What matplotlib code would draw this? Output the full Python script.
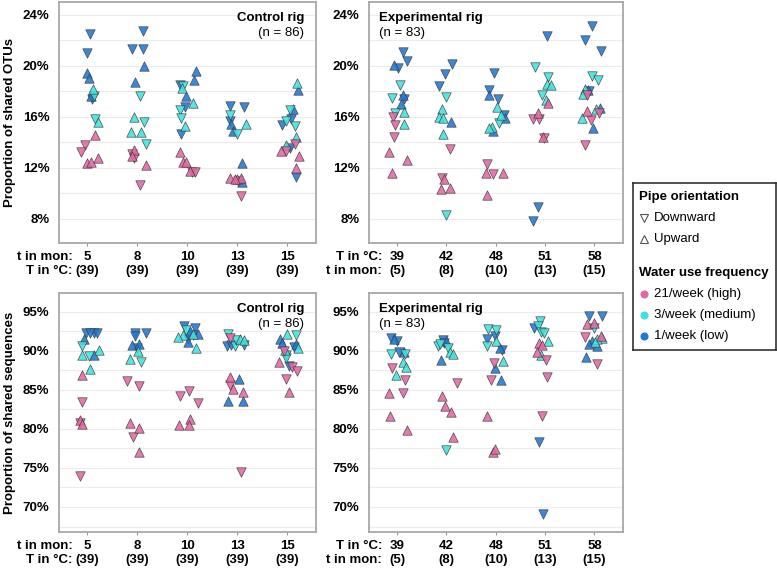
import numpy as np
import matplotlib.pyplot as plt
from matplotlib.ticker import MultipleLocator, FormatStrFormatter
from matplotlib.lines import Line2D

plt.rcParams['font.family'] = ['Liberation Sans', 'DejaVu Sans']

ctrl_top = ['5', '8', '10', '13', '15']
ctrl_bot = ['(39)', '(39)', '(39)', '(39)', '(39)']
exp_top = ['39', '42', '48', '51', '58']
exp_bot = ['(5)', '(8)', '(10)', '(13)', '(15)']

# (category, jitter, value in %, code)  code: p/c/b = 21, 3, 1 per week ; d/u = downward/upward
otu_ctrl = [
    (0, 0.06, 22.5, 'bd'), (0, -0.01, 21.0, 'bd'), (0, 0.0, 19.4, 'bu'), (0, 0.03, 19.0, 'bu'),
    (0, 0.11, 18.2, 'cu'), (0, 0.14, 17.6, 'cd'), (0, 0.07, 17.6, 'bu'), (0, 0.09, 17.4, 'bd'),
    (0, 0.16, 15.8, 'cd'), (0, 0.21, 15.55, 'cu'), (0, -0.04, 13.8, 'pd'), (0, -0.12, 13.2, 'pd'),
    (0, 0.16, 14.6, 'pu'), (0, 0.0, 12.4, 'pu'), (0, 0.07, 12.45, 'pu'), (0, 0.22, 12.8, 'pu'),
    (1, 0.11, 22.75, 'bd'), (1, -0.11, 21.3, 'bd'), (1, 0.12, 21.3, 'bd'), (1, 0.13, 20.0, 'bu'),
    (1, -0.05, 18.7, 'bu'), (1, 0.05, 17.6, 'cd'), (1, -0.07, 15.98, 'cu'), (1, 0.13, 15.6, 'cd'),
    (1, -0.12, 14.8, 'cu'), (1, 0.07, 14.8, 'cu'), (1, 0.17, 13.9, 'cd'), (1, -0.07, 13.4, 'pu'),
    (1, -0.1, 13.1, 'pd'), (1, -0.11, 12.9, 'pu'), (1, -0.07, 12.73, 'pd'), (1, 0.17, 12.2, 'pu'),
    (1, 0.05, 10.67, 'pd'),
    (2, -0.15, 18.5, 'bd'), (2, -0.11, 18.25, 'cu'), (2, -0.08, 18.4, 'cd'), (2, 0.17, 19.6, 'bu'),
    (2, 0.13, 18.85, 'bu'), (2, -0.03, 17.6, 'bu'), (2, 0.12, 17.07, 'cu'), (2, -0.05, 16.76, 'bd'),
    (2, -0.15, 16.55, 'cd'), (2, -0.12, 15.9, 'cd'), (2, -0.05, 15.24, 'cu'), (2, -0.12, 14.64, 'bd'),
    (2, -0.15, 13.2, 'pu'), (2, -0.08, 12.42, 'pu'), (2, -0.03, 12.42, 'pu'), (2, 0.05, 11.75, 'pu'),
    (2, 0.09, 11.7, 'pd'), (2, 0.15, 11.7, 'pd'),
    (3, -0.15, 16.86, 'bd'), (3, 0.14, 16.76, 'bd'), (3, -0.15, 16.16, 'cd'), (3, -0.15, 15.7, 'bd'),
    (3, -0.13, 15.43, 'bu'), (3, 0.17, 15.43, 'cu'), (3, -0.09, 14.9, 'bu'), (3, 0.0, 14.67, 'cd'),
    (3, 0.09, 12.37, 'bu'), (3, -0.15, 11.19, 'pu'), (3, 0.0, 11.1, 'pu'), (3, 0.02, 11.0, 'pd'),
    (3, 0.07, 11.2, 'pu'), (3, 0.1, 10.85, 'bu'), (3, 0.07, 9.75, 'pd'), (3, -0.05, 11.1, 'pu'),
    (4, 0.2, 18.64, 'cu'), (4, 0.21, 18.06, 'bu'), (4, 0.12, 16.63, 'bu'), (4, 0.06, 16.5, 'cd'),
    (4, -0.11, 15.37, 'bd'), (4, -0.03, 15.7, 'cd'), (4, 0.07, 15.8, 'bd'), (4, 0.15, 15.3, 'cd'),
    (4, 0.17, 14.38, 'cu'), (4, -0.02, 13.8, 'cu'), (4, 0.06, 13.54, 'bd'), (4, -0.12, 13.35, 'pu'),
    (4, -0.02, 13.3, 'pd'), (4, 0.16, 13.9, 'pd'), (4, 0.23, 12.94, 'pu'), (4, 0.17, 12.02, 'pu'),
    (4, 0.17, 11.24, 'bd'),
]

otu_exp = [
    (0, 0.11, 21.05, 'bd'), (0, 0.21, 20.34, 'bd'), (0, -0.06, 20.08, 'bu'), (0, 0.02, 19.8, 'bd'),
    (0, 0.05, 18.5, 'cd'), (0, -0.11, 17.5, 'cd'), (0, 0.11, 17.7, 'bu'), (0, 0.13, 17.4, 'bd'),
    (0, 0.07, 17.0, 'bu'), (0, -0.05, 16.3, 'cd'), (0, 0.14, 16.37, 'cu'), (0, -0.09, 15.95, 'pd'),
    (0, -0.05, 15.37, 'pd'), (0, 0.13, 15.45, 'cu'), (0, -0.07, 14.45, 'pd'), (0, -0.16, 13.23, 'pu'),
    (0, 0.2, 12.57, 'pu'), (0, -0.11, 11.58, 'pu'),
    (1, 0.11, 20.13, 'bd'), (1, -0.03, 19.37, 'bd'), (1, -0.16, 18.43, 'bd'), (1, 0.0, 17.54, 'cd'),
    (1, -0.09, 16.6, 'cu'), (1, -0.15, 15.98, 'cu'), (1, -0.07, 15.9, 'cu'), (1, 0.09, 15.55, 'bu'),
    (1, -0.07, 14.67, 'cu'), (1, 0.08, 13.47, 'pd'), (1, -0.09, 11.19, 'pd'), (1, -0.04, 11.1, 'pu'),
    (1, -0.12, 10.33, 'pu'), (1, 0.08, 10.38, 'pu'), (1, 0.0, 8.3, 'cd'),
    (2, -0.04, 19.47, 'bd'), (2, -0.14, 18.06, 'bd'), (2, -0.14, 17.73, 'bu'), (2, 0.04, 17.4, 'bd'),
    (2, 0.03, 16.76, 'cu'), (2, 0.11, 16.16, 'cu'), (2, 0.16, 16.1, 'bd'), (2, 0.18, 15.9, 'bu'),
    (2, 0.06, 15.5, 'cd'), (2, -0.07, 15.19, 'cu'), (2, -0.14, 15.15, 'cu'), (2, -0.05, 14.85, 'bu'),
    (2, -0.17, 12.29, 'pd'), (2, -0.19, 11.58, 'pu'), (2, -0.06, 11.5, 'pd'), (2, 0.15, 11.6, 'pu'),
    (2, -0.17, 9.86, 'pu'),
    (3, 0.04, 22.3, 'bd'), (3, -0.21, 19.9, 'cd'), (3, 0.05, 19.11, 'cd'), (3, 0.04, 18.6, 'cu'),
    (3, 0.13, 18.5, 'cu'), (3, -0.07, 17.73, 'cd'), (3, 0.01, 17.33, 'cu'), (3, 0.06, 17.07, 'pu'),
    (3, -0.15, 16.29, 'pu'), (3, -0.24, 15.8, 'pd'), (3, -0.13, 15.8, 'pd'), (3, -0.04, 14.4, 'pu'),
    (3, -0.03, 14.35, 'pd'), (3, -0.14, 8.91, 'bd'), (3, -0.25, 7.8, 'bd'),
    (4, -0.05, 23.14, 'bd'), (4, -0.2, 22.04, 'bd'), (4, 0.13, 21.12, 'bd'), (4, -0.05, 19.16, 'cd'),
    (4, 0.08, 18.9, 'cd'), (4, -0.2, 18.17, 'cu'), (4, -0.12, 18.1, 'bu'), (4, -0.24, 17.78, 'cu'),
    (4, -0.14, 17.7, 'pd'), (4, -0.1, 18.0, 'bd'), (4, -0.14, 16.47, 'pu'), (4, 0.03, 16.6, 'cu'),
    (4, 0.11, 16.67, 'bu'), (4, 0.09, 16.3, 'pd'), (4, -0.25, 15.9, 'cu'), (4, -0.06, 15.76, 'pd'),
    (4, -0.03, 15.11, 'bu'), (4, -0.19, 13.75, 'pd'),
]

seq_ctrl = [
    (0, -0.02, 92.27, 'bd'), (0, 0.14, 92.3, 'bd'), (0, 0.19, 92.27, 'bd'), (0, 0.06, 92.3, 'bd'),
    (0, -0.07, 91.5, 'bu'), (0, -0.11, 90.55, 'cd'), (0, -0.11, 89.49, 'cu'), (0, 0.13, 89.5, 'bu'),
    (0, 0.03, 89.27, 'cd'), (0, 0.23, 90.04, 'cu'), (0, 0.05, 87.65, 'cu'), (0, -0.11, 86.84, 'pu'),
    (0, -0.1, 83.4, 'pd'), (0, -0.14, 81.15, 'pu'), (0, -0.15, 80.8, 'pd'), (0, -0.11, 80.64, 'pu'),
    (0, -0.15, 73.97, 'pd'),
    (1, -0.04, 92.3, 'bd'), (1, 0.17, 92.3, 'bd'), (1, -0.05, 91.92, 'bd'), (1, -0.11, 90.68, 'bu'),
    (1, -0.01, 90.34, 'bd'), (1, 0.03, 90.9, 'bu'), (1, 0.01, 90.0, 'cu'), (1, -0.14, 88.93, 'cu'),
    (1, 0.07, 88.5, 'cd'), (1, -0.2, 86.07, 'pd'), (1, 0.03, 85.5, 'pd'), (1, -0.14, 80.73, 'pu'),
    (1, 0.04, 80.17, 'pu'), (1, -0.09, 78.93, 'pd'), (1, 0.03, 77.1, 'pu'),
    (2, -0.07, 93.2, 'bd'), (2, 0.15, 92.9, 'bd'), (2, -0.02, 92.7, 'cd'), (2, 0.05, 92.48, 'bu'),
    (2, -0.09, 92.05, 'cu'), (2, 0.11, 92.05, 'bd'), (2, 0.11, 92.2, 'cu'), (2, 0.22, 92.2, 'bu'),
    (2, -0.19, 91.76, 'cu'), (2, 0.01, 91.5, 'bd'), (2, 0.01, 91.07, 'bu'), (2, 0.18, 90.34, 'cu'),
    (2, -0.15, 84.27, 'pd'), (2, 0.03, 84.87, 'pd'), (2, 0.22, 83.37, 'pd'), (2, 0.05, 81.24, 'pu'),
    (2, -0.17, 80.5, 'pu'), (2, 0.03, 80.5, 'pu'),
    (3, -0.19, 92.18, 'cd'), (3, -0.14, 91.62, 'pd'), (3, -0.21, 90.64, 'bd'), (3, -0.13, 90.7, 'bd'),
    (3, -0.04, 90.6, 'cd'), (3, 0.05, 91.45, 'cu'), (3, 0.13, 91.4, 'cu'), (3, 0.13, 90.74, 'bd'),
    (3, -0.02, 91.4, 'cd'), (3, -0.15, 86.7, 'pu'), (3, 0.04, 86.4, 'bu'), (3, -0.14, 85.64, 'pd'),
    (3, -0.09, 85.09, 'pu'), (3, 0.11, 84.66, 'pu'), (3, -0.19, 83.63, 'bu'), (3, 0.11, 83.63, 'bu'),
    (3, 0.07, 74.53, 'pd'),
    (4, 0.0, 92.1, 'cu'), (4, -0.15, 91.5, 'bu'), (4, -0.11, 91.0, 'bu'), (4, -0.05, 90.13, 'cu'),
    (4, -0.07, 90.0, 'pd'), (4, -0.03, 89.5, 'cd'), (4, -0.02, 89.1, 'cd'), (4, 0.17, 92.0, 'cd'),
    (4, 0.13, 90.5, 'bd'), (4, 0.17, 90.9, 'bu'), (4, 0.22, 90.4, 'cu'), (4, -0.17, 88.5, 'pu'),
    (4, 0.03, 88.08, 'bd'), (4, 0.09, 87.9, 'pd'), (4, 0.2, 87.43, 'pd'), (4, -0.03, 86.37, 'pd'),
    (4, 0.03, 84.66, 'pu'),
]

seq_exp = [
    (0, -0.13, 91.62, 'bd'), (0, -0.06, 91.45, 'bu'), (0, -0.01, 91.2, 'bd'), (0, -0.12, 89.6, 'cd'),
    (0, 0.03, 89.83, 'bd'), (0, 0.14, 89.8, 'bu'), (0, 0.17, 89.6, 'cd'), (0, 0.12, 88.6, 'cu'),
    (0, 0.19, 87.9, 'cu'), (0, -0.03, 86.9, 'cu'), (0, -0.11, 87.78, 'pd'), (0, 0.15, 86.2, 'pd'),
    (0, -0.17, 84.6, 'pu'), (0, 0.11, 84.6, 'pd'), (0, -0.14, 81.7, 'pu'), (0, 0.21, 79.87, 'pu'),
    (1, -0.06, 91.4, 'bd'), (1, -0.01, 91.2, 'bu'), (1, -0.17, 90.55, 'cd'), (1, 0.03, 90.3, 'cd'),
    (1, 0.07, 89.9, 'cu'), (1, 0.14, 89.6, 'cu'), (1, -0.12, 88.76, 'bu'), (1, 0.21, 85.86, 'pd'),
    (1, -0.09, 84.15, 'pu'), (1, -0.03, 82.95, 'pu'), (1, 0.09, 82.22, 'pu'), (1, 0.13, 78.93, 'pu'),
    (1, -0.01, 77.3, 'cd'), (1, -0.13, 90.9, 'cd'), (1, -0.04, 91.0, 'bd'),
    (2, -0.16, 92.78, 'cd'), (2, 0.01, 92.6, 'cd'), (2, -0.17, 91.45, 'bd'), (2, -0.02, 91.9, 'bd'),
    (2, -0.17, 90.6, 'cd'), (2, 0.0, 91.2, 'cu'), (2, 0.09, 90.34, 'bu'), (2, 0.13, 90.1, 'bd'),
    (2, 0.15, 88.72, 'cu'), (2, -0.04, 88.42, 'pd'), (2, -0.02, 87.78, 'bu'), (2, -0.09, 86.2, 'pd'),
    (2, 0.11, 86.2, 'bu'), (2, -0.17, 81.6, 'pu'), (2, -0.06, 77.1, 'pu'), (2, -0.02, 77.4, 'pu'),
    (3, -0.11, 93.76, 'cd'), (3, -0.22, 92.9, 'bd'), (3, -0.14, 93.2, 'cd'), (3, -0.09, 92.35, 'cd'),
    (3, -0.03, 92.3, 'cd'), (3, 0.05, 91.3, 'cu'), (3, -0.13, 90.97, 'pu'), (3, -0.06, 90.7, 'pu'),
    (3, -0.16, 89.9, 'pu'), (3, -0.08, 89.5, 'cu'), (3, 0.01, 88.85, 'pd'), (3, 0.03, 86.7, 'pd'),
    (3, -0.07, 81.6, 'pd'), (3, -0.12, 78.3, 'bd'), (3, -0.05, 69.15, 'bd'),
    (4, -0.11, 94.4, 'bd'), (4, 0.15, 94.4, 'bd'), (4, -0.14, 93.4, 'pu'), (4, 0.0, 93.5, 'pu'),
    (4, 0.0, 92.9, 'cd'), (4, -0.2, 91.75, 'pd'), (4, 0.13, 91.9, 'pu'), (4, 0.16, 91.6, 'cu'),
    (4, 0.06, 91.5, 'cu'), (4, -0.04, 91.2, 'bu'), (4, 0.01, 91.1, 'cu'), (4, -0.11, 90.85, 'bu'),
    (4, 0.05, 90.6, 'bu'), (4, -0.17, 89.14, 'bu'), (4, 0.06, 88.3, 'pd'),
]

cols = {'p': '#e466a3', 'c': '#3ee3de', 'b': '#1f78d4'}
marks = {'d': 'v', 'u': '^'}
fs = 9.5


def panel(ax, pts, ylim, major, minor, top, bot, head, title, n, right):
    for code in ['bd', 'bu', 'cd', 'cu', 'pd', 'pu']:
        sel = [p for p in pts if p[3] == code]
        if not sel:
            continue
        x = [p[0] + p[1] for p in sel]
        y = [p[2] for p in sel]
        ax.scatter(x, y, s=46, marker=marks[code[1]], c=cols[code[0]],
                   edgecolors='#3a3a3a', linewidths=0.5, alpha=0.88, zorder=3)
    ax.set_ylim(*ylim)
    ax.set_xlim(-0.57, 4.58)
    ax.yaxis.set_major_locator(MultipleLocator(major))
    ax.yaxis.set_minor_locator(MultipleLocator(minor))
    ax.yaxis.set_major_formatter(FormatStrFormatter('%d%%'))
    ax.grid(axis='y', which='both', color='#ececec', lw=0.8)
    ax.set_axisbelow(True)
    ax.set_xticks(range(5))
    ax.set_xticklabels([a + '\n' + b for a, b in zip(top, bot)], linespacing=1.15)
    ax.tick_params(axis='x', length=2.5, color='#999999', pad=3.5)
    ax.tick_params(axis='y', which='both', length=0, pad=7)
    for lab in ax.get_xticklabels() + ax.get_yticklabels():
        lab.set_fontweight('bold')
        lab.set_fontsize(fs)
    for s in ax.spines.values():
        s.set_color('#a8a8a8')
        s.set_linewidth(1.3)
    ax.annotate(head, xy=(0.052, 0), xycoords='axes fraction', xytext=(0, -6),
                textcoords='offset points', ha='right', va='top', fontsize=fs,
                fontweight='bold', linespacing=1.15)
    if right:
        ax.text(0.955, 0.96, title, transform=ax.transAxes, ha='right', va='top',
                fontsize=fs, fontweight='bold')
        ax.text(0.955, 0.895, n, transform=ax.transAxes, ha='right', va='top', fontsize=fs)
    else:
        ax.text(0.04, 0.96, title, transform=ax.transAxes, ha='left', va='top',
                fontsize=fs, fontweight='bold')
        ax.text(0.04, 0.895, n, transform=ax.transAxes, ha='left', va='top', fontsize=fs)


fig = plt.figure(figsize=(7.77, 5.68), dpi=100)
ax1 = fig.add_axes([0.0759, 0.5722, 0.3308, 0.4243])
ax2 = fig.add_axes([0.4749, 0.5722, 0.3269, 0.4243])
ax3 = fig.add_axes([0.0759, 0.0634, 0.3308, 0.4208])
ax4 = fig.add_axes([0.4749, 0.0634, 0.3269, 0.4208])

panel(ax1, otu_ctrl, (6.1, 25.0), 4, 2, ctrl_top, ctrl_bot, 't in mon:\nT in °C:',
      'Control rig', '(n = 86)', True)
panel(ax2, otu_exp, (6.1, 25.0), 4, 2, exp_top, exp_bot, 'T in °C:\nt in mon:',
      'Experimental rig', '(n = 83)', False)
panel(ax3, seq_ctrl, (66.8, 97.4), 5, 2.5, ctrl_top, ctrl_bot, 't in mon:\nT in °C:',
      'Control rig', '(n = 86)', True)
panel(ax4, seq_exp, (66.8, 97.4), 5, 2.5, exp_top, exp_bot, 'T in °C:\nt in mon:',
      'Experimental rig', '(n = 83)', False)

ax1.set_ylabel('Proportion of shared OTUs', fontsize=fs, fontweight='bold', labelpad=5)
ax3.set_ylabel('Proportion of shared sequences', fontsize=fs, fontweight='bold', labelpad=5)

# legend box
lg = fig.add_axes([0.8147, 0.3838, 0.184, 0.294])
lg.set_xlim(0, 1)
lg.set_ylim(0, 1)
lg.set_xticks([])
lg.set_yticks([])
for s in lg.spines.values():
    s.set_color('#222222')
    s.set_linewidth(1.1)
lg.text(0.04, 0.915, 'Pipe orientation', fontsize=fs, fontweight='bold', va='center')
lg.text(0.04, 0.46, 'Water use frequency', fontsize=fs, fontweight='bold', va='center')
rows = [('v', 'white', '#555555', 'Downward', 0.79), ('^', 'white', '#555555', 'Upward', 0.665),
        ('o', cols['p'], cols['p'], '21/week (high)', 0.335),
        ('o', cols['c'], cols['c'], '3/week (medium)', 0.21),
        ('o', cols['b'], cols['b'], '1/week (low)', 0.086)]
for m, fc, ec, lab, yy in rows:
    lg.add_line(Line2D([0.08], [yy], marker=m, markersize=6 if m != 'o' else 5,
                       markerfacecolor=fc, markeredgecolor=ec, markeredgewidth=0.8, ls=''))
    lg.text(0.145, yy, lab, fontsize=fs, va='center')

fig.savefig('out.png', dpi=100)
